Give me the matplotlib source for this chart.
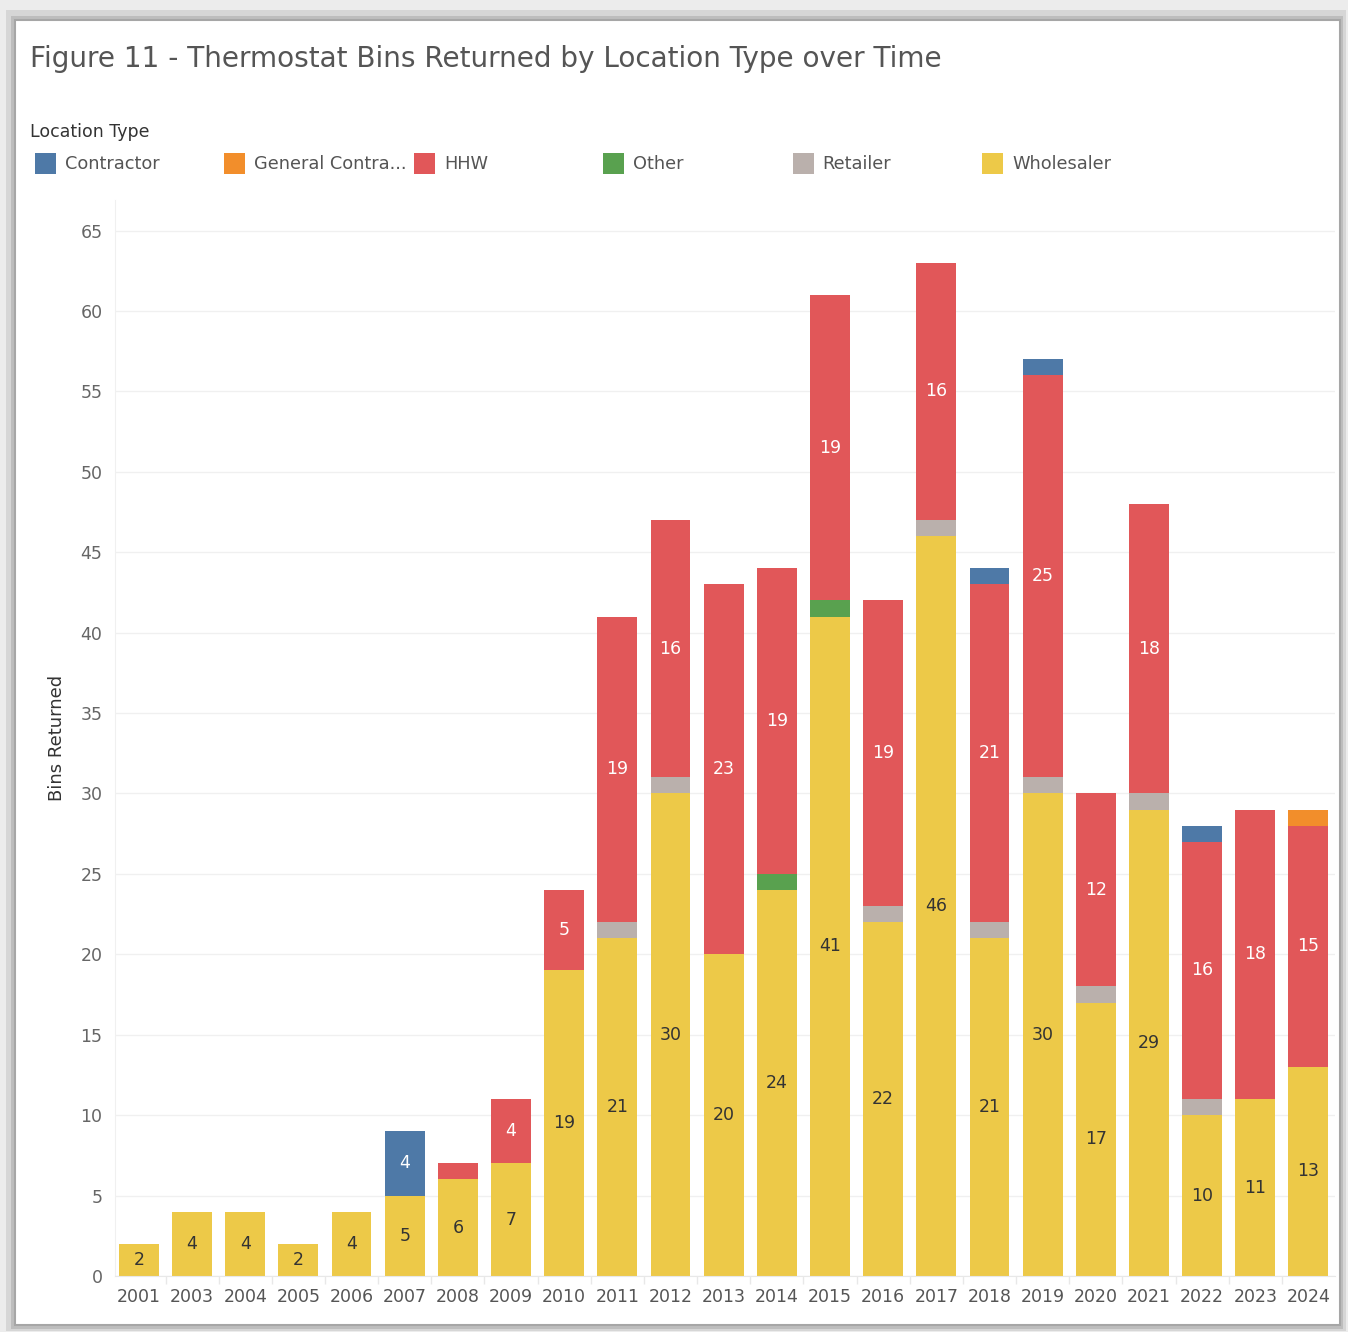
import numpy as np
import matplotlib.pyplot as plt
from matplotlib.patches import Rectangle

# data
years = ['2001', '2003', '2004', '2005', '2006', '2007', '2008', '2009', '2010', '2011', '2012', '2013',
         '2014', '2015', '2016', '2017', '2018', '2019', '2020', '2021', '2022', '2023', '2024']
wholesaler = [2, 4, 4, 2, 4, 5, 6, 7, 19, 21, 30, 20, 24, 41, 22, 46, 21, 30, 17, 29, 10, 11, 13]
retailer = [0, 0, 0, 0, 0, 0, 0, 0, 0, 1, 1, 0, 0, 0, 1, 1, 1, 1, 1, 1, 1, 0, 0]
other = [0, 0, 0, 0, 0, 0, 0, 0, 0, 0, 0, 0, 1, 1, 0, 0, 0, 0, 0, 0, 0, 0, 0]
hhw = [0, 0, 0, 0, 0, 0, 1, 4, 5, 19, 16, 23, 19, 19, 19, 16, 21, 25, 12, 18, 16, 18, 15]
general_contractor = [0, 0, 0, 0, 0, 0, 0, 0, 0, 0, 0, 0, 0, 0, 0, 0, 0, 0, 0, 0, 0, 0, 1]
contractor = [0, 0, 0, 0, 0, 4, 0, 0, 0, 0, 0, 0, 0, 0, 0, 0, 1, 1, 0, 0, 1, 0, 0]

legend_labels = ['Contractor', 'General Contra...', 'HHW', 'Other', 'Retailer', 'Wholesaler']
legend_colors = ['#4e79a7', '#f28e2b', '#e15759', '#59a14f', '#bab0ac', '#edc948']

# stacked bottom -> top
stack = [(wholesaler, '#edc948', '#333333'),
         (retailer, '#bab0ac', '#333333'),
         (other, '#59a14f', 'white'),
         (hhw, '#e15759', 'white'),
         (general_contractor, '#f28e2b', 'white'),
         (contractor, '#4e79a7', 'white')]

W, H = 1348, 1332
fig = plt.figure(figsize=(W / 100, H / 100), dpi=100)
fig.patch.set_facecolor('#ececec')

def px(x0, y0, x1, y1):
    return (x0 / W, 1 - y1 / H), (x1 - x0) / W, (y1 - y0) / H

# shadow frame + white panel
for (x0, y0, x1, y1), c in [((6, 10, 1346, 1331), '#d6d6d6'), ((11, 16, 1343, 1329), '#bdbdbd')]:
    xy, w, h = px(x0, y0, x1, y1)
    fig.patches.append(Rectangle(xy, w, h, transform=fig.transFigure, facecolor=c, edgecolor='none', zorder=-2))
xy, w, h = px(15, 20, 1340, 1325)
fig.patches.append(Rectangle(xy, w, h, transform=fig.transFigure, facecolor='white',
                             edgecolor='#a6a6a6', lw=1.5, zorder=-1))

fig.text(30 / W, 1 - 59 / H, 'Figure 11 - Thermostat Bins Returned by Location Type over Time',
         fontsize=20.1, color='#555555', va='center', ha='left')

# legend
fig.text(30 / W, 1 - 132 / H, 'Location Type', fontsize=12.5, color='#333333', va='center', ha='left')
for i, (lab, col) in enumerate(zip(legend_labels, legend_colors)):
    x0 = 35 + i * 189.4
    xy, w, h = px(x0, 153, x0 + 21, 174)
    fig.patches.append(Rectangle(xy, w, h, transform=fig.transFigure, facecolor=col, edgecolor='none'))
    fig.text((x0 + 30) / W, 1 - 164 / H, lab, fontsize=12.8, color='#555555', va='center', ha='left')

ax = fig.add_axes([115 / W, 1 - 1276 / H, 1220 / W, 1076 / H])
ax.set_zorder(3)
ax.patch.set_alpha(0)
x = np.arange(len(years))
barWidth = 0.75
bottom = np.zeros(len(years))
for vals, col, tcol in stack:
    vals = np.array(vals)
    ax.bar(x, vals, bottom=bottom, width=barWidth, color=col, edgecolor='none', zorder=2)
    for xi, b, v in zip(x, bottom, vals):
        if v >= 2:
            ax.text(xi, b + v / 2, str(v), ha='center', va='center', fontsize=12.5, color=tcol, zorder=3)
    bottom = bottom + vals

ax.set_xlim(-0.45, 22.5)
ax.set_ylim(0, 66.9)
ax.set_yticks(range(0, 66, 5))
ax.set_xticks(x)
ax.set_xticklabels(years)
ax.set_xticks(x[:-1] + 0.5, minor=True)
ax.tick_params(axis='y', length=0, pad=9, labelsize=12.5, labelcolor='#666666')
ax.tick_params(axis='x', which='major', length=0, pad=9, labelsize=12.5, labelcolor='#555555')
ax.tick_params(axis='x', which='minor', length=6, color='#e8e8e8', width=1)
ax.grid(axis='y', color='#f0f0f0', lw=1, zorder=0)
ax.set_axisbelow(True)
for s in ['top', 'right']:
    ax.spines[s].set_visible(False)
ax.spines['left'].set_color('#f0f0f0')
ax.spines['bottom'].set_color('#e8e8e8')
ax.set_ylabel('Bins Returned', fontsize=13, color='#333333', labelpad=10)

fig.savefig('out.png', dpi=100, facecolor=fig.get_facecolor())
